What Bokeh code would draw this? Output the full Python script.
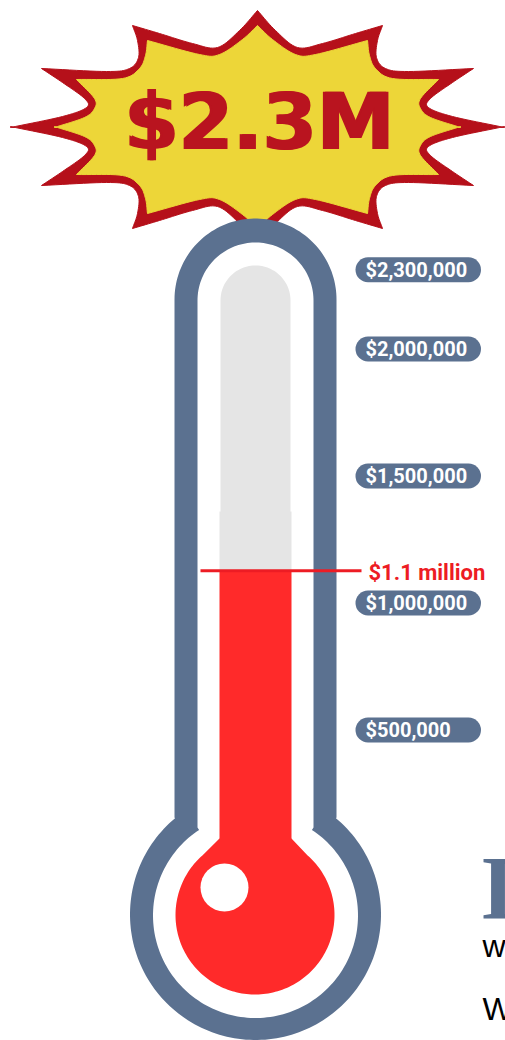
import numpy as np
from bokeh.plotting import figure
from bokeh.models import Range1d
from bokeh.core.properties import value
from bokeh.embed import file_html
from bokeh.resources import INLINE

# chart data
tick_values = [2312000, 2000000, 1500000, 1000000, 500000]
tick_labels = ["$2,300,000", "$2,000,000", "$1,500,000", "$1,000,000", "$500,000"]
raised_value = 1127000
raised_label = "$1.1 million"
goal_label = "$2.3M"

SLATE = "#5b7190"
RED = "#ff2a2a"
LINE_RED = "#ed1c24"
GREY = "#e5e5e5"
LABEL_FONT = value("Roboto")

W, H = 505, 1040
PX_PER_M = 254.0
def dollars(py):
    return 500000 + (729.5 - py) / PX_PER_M * 1e6

p = figure(width=W, height=H, x_range=Range1d(0, 505),
           y_range=Range1d(dollars(1040), dollars(0)),
           output_backend="svg", toolbar_location=None, min_border=0,
           outline_line_color=None, background_fill_color=None, border_fill_color=None)
p.axis.visible = False
p.grid.visible = False
p.extra_y_ranges["px"] = Range1d(1040, 0)

def spline(pts, n=10):
    pts = np.array(pts, float)
    ext = np.vstack([2 * pts[0] - pts[1], pts, 2 * pts[-1] - pts[-2]])
    out = []
    for i in range(1, len(ext) - 2):
        a, b, c, d = ext[i - 1], ext[i], ext[i + 1], ext[i + 2]
        for t in np.linspace(0, 1, n, endpoint=False):
            out.append(0.5 * (2 * b + (c - a) * t + (2 * a - 5 * b + 4 * c - d) * t ** 2
                              + (3 * b - a - 3 * c + d) * t ** 3))
    out.append(pts[-1])
    return np.array(out)

def burst(runs, cx=257.0, cy=126.5):
    q = np.vstack([spline(r) for r in runs])
    lower = q[::-1].copy(); lower[:, 1] = 2 * cy - lower[:, 1]
    right = np.vstack([q, lower])
    left = right[::-1].copy(); left[:, 0] = 2 * cx - left[:, 0]
    full = np.vstack([right, left])
    return full[:, 0], full[:, 1]

outer_runs = [
    [(257, 10), (275, 30), (297, 47), (322, 43), (355, 33), (382, 25)],
    [(382, 25), (377, 40), (376, 57), (385, 68), (408, 71), (473, 68)],
    [(473, 68), (452, 82), (430, 98), (428, 107), (452, 116), (504, 127)],
]
inner_runs = [
    [(257, 25), (272, 39), (295, 54), (315, 54), (367, 40)],
    [(367, 40), (369, 55), (375, 68), (392, 78), (438, 79)],
    [(438, 79), (420, 98), (420, 108), (430, 117), (460, 127)],
]
x, y = burst(outer_runs)
p.patch(x, y, y_range_name="px", fill_color="#b5101a", line_color="#b5101a", line_width=1)
x, y = burst(inner_runs)
p.patch(x, y, y_range_name="px", fill_color="#edd638", line_color="#edd638", line_width=1)
for gx in (257.8, 260.2):
    p.text([gx], [121.5], text=[goal_label], y_range_name="px", text_color="#b9141f",
           text_font=value("DejaVu Sans"), text_font_style="bold", text_font_size="78px",
           text_align="center", text_baseline="middle")

def bulb_shape(half_w, r, cy, join_y, top_r, top_y, cx=255.0):
    """Closed outline: rounded stem top joined to a circular bulb."""
    a = np.linspace(np.pi, 0, 80)
    top_x, top_yy = cx + top_r * np.cos(a), top_y - top_r * np.sin(a)
    start = np.arctan2(join_y - cy, half_w)
    b = np.linspace(start, np.pi - start, 160)
    bx, by = cx + r * np.cos(b), cy + r * np.sin(b)
    return (np.r_[top_x, cx + half_w, bx, cx - half_w],
            np.r_[top_yy, join_y, by, join_y])

x, y = bulb_shape(81, 125.5, 914, 817, 81, 299)
p.patch(x, y, y_range_name="px", fill_color=SLATE, line_color=None)
x, y = bulb_shape(58, 102.5, 915, 827, 58, 300)
p.patch(x, y, y_range_name="px", fill_color="#ffffff", line_color=None)

# grey tube
a = np.linspace(np.pi, 0, 60)
p.patch(np.r_[255 + 35 * np.cos(a), 290, 220], np.r_[300 - 35 * np.sin(a), 520, 520],
        y_range_name="px", fill_color=GREY, line_color=None)
p.quad(left=[219], right=[291], top=[dollars(511)], bottom=[raised_value], fill_color=GREY, line_color=None)

# mercury
p.quad(left=[219], right=[291], top=[raised_value], bottom=[dollars(845)], fill_color=RED, line_color=None)
cx, cy, r = 254.5, 914.5, 79.5
start = np.arctan2(855 - cy, 52.5)
b = np.linspace(start, np.pi - start, 160)
p.patch(np.r_[219, 291, cx + r * np.cos(b)], np.r_[838, 838, cy + r * np.sin(b)],
        y_range_name="px", fill_color=RED, line_color=None)
p.ellipse([224], [887], width=48, height=48, y_range_name="px",
          fill_color="#ffffff", line_color=None)

# level line and labels
p.segment([200], [raised_value], [361], [raised_value], line_color=LINE_RED, line_width=3)
p.text([368], [dollars(572)], text=[raised_label], text_color=LINE_RED, text_font=LABEL_FONT,
       text_font_style="bold", text_font_size="22px", text_align="left", text_baseline="middle")

p.segment([367.5] * 5, tick_values, [468] * 5, tick_values, line_color=SLATE, line_width=25, line_cap="round")
p.text([365] * 5, tick_values, text=tick_labels, text_color="#ffffff", text_font=LABEL_FONT,
       text_font_style="bold", text_font_size="20px", text_align="left", text_baseline="middle")

# cropped neighbouring article text
p.text([480], [888], text=["I"], y_range_name="px", text_color=SLATE,
       text_font=value("Liberation Serif"), text_font_style="bold", text_font_size="90px",
       text_baseline="alphabetic")
p.text([482], [945], text=["w"], y_range_name="px", text_color="#000000",
       text_font=value("Liberation Sans"), text_font_size="32px", text_baseline="alphabetic")
p.text([482], [1008], text=["W"], y_range_name="px", text_color="#000000",
       text_font=value("Liberation Sans"), text_font_size="32px", text_baseline="alphabetic")

open("out.html", "w").write(file_html(p, INLINE))
